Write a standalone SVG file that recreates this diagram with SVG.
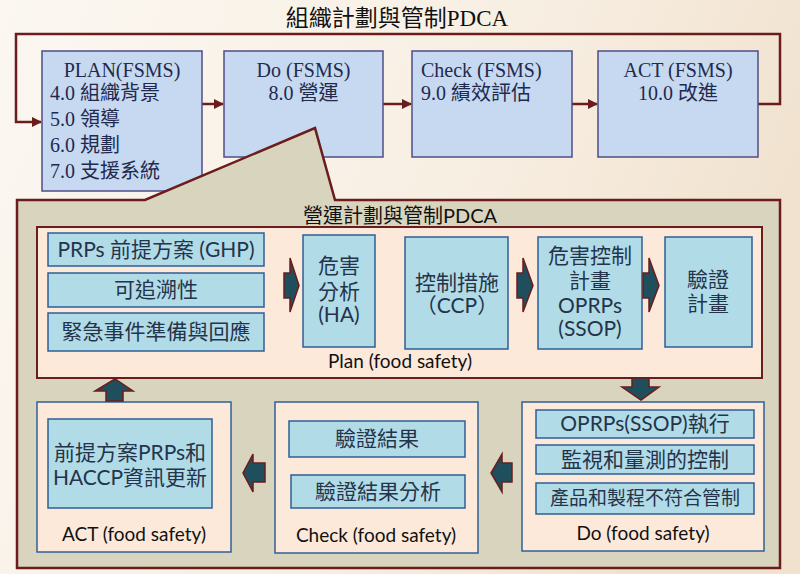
<svg xmlns="http://www.w3.org/2000/svg" width="800" height="574" viewBox="0 0 800 574">
<defs>
<linearGradient id="bg" x1="0" y1="0" x2="1" y2="0.3">
<stop offset="0" stop-color="#fbf7f1"/>
<stop offset="0.6" stop-color="#f8efe3"/>
<stop offset="1" stop-color="#f1e2cf"/>
</linearGradient>
<marker id="ah" viewBox="0 0 10 10" refX="9" refY="5" markerWidth="4" markerHeight="4" orient="auto" markerUnits="strokeWidth">
<path d="M0,0 L10,5 L0,10 Z" fill="#6b1c1c"/>
</marker>
<style>
.top{fill:#c6d9f1;stroke:#514c86;stroke-width:1.5}
.tt{font-family:"Liberation Serif","Noto Sans CJK TC",serif;font-size:20px;fill:#1f2a4e}
.conn{fill:none;stroke:#6b1c1c;stroke-width:2.5}
.peach{fill:#fde9da}
.blue{fill:#b2dbe8;stroke:#2f5f96;stroke-width:1.5}
.bt{font-family:"Lato","Noto Sans CJK TC",sans-serif;font-size:21px;fill:#24344a;text-anchor:middle}
.lbl{font-family:"Lato","Noto Sans CJK TC",sans-serif;font-size:19px;fill:#111;text-anchor:middle}
.arr{fill:#1f4e5c;stroke:#6b1c1c;stroke-width:1.5;stroke-linejoin:miter}
</style>
</defs>
<rect width="800" height="574" fill="url(#bg)"/>
<text x="397" y="26" text-anchor="middle" style="font-family:'Liberation Serif','Noto Sans CJK TC',serif;font-size:23px;fill:#111">組織計劃與管制PDCA</text>

<g id="connectors">
<path class="conn" d="M758,104 H780 V34 H16 V122 H41" marker-end="url(#ah)"/>
<path class="conn" d="M202,104 H223" marker-end="url(#ah)"/>
<path class="conn" d="M383,104 H411" marker-end="url(#ah)"/>
<path class="conn" d="M572,104 H597" marker-end="url(#ah)"/>
</g>

<g id="plan-fsms">
<rect class="top" x="42" y="51" width="160" height="140"/>
<text class="tt" x="122" y="77" text-anchor="middle">PLAN(FSMS)</text>
<text class="tt" x="50" y="100">4.0 組織背景</text>
<text class="tt" x="50" y="126">5.0 領導</text>
<text class="tt" x="50" y="152">6.0 規劃</text>
<text class="tt" x="50" y="178">7.0 支援系統</text>
</g>
<g id="do-fsms">
<rect class="top" x="224" y="51" width="159" height="106"/>
<text class="tt" x="303.5" y="77" text-anchor="middle">Do (FSMS)</text>
<text class="tt" x="303.5" y="100" text-anchor="middle">8.0 營運</text>
</g>
<g id="check-fsms">
<rect class="top" x="412" y="51" width="160" height="106"/>
<text class="tt" x="421" y="77">Check (FSMS)</text>
<text class="tt" x="421" y="100">9.0 績效評估</text>
</g>
<g id="act-fsms">
<rect class="top" x="598" y="51" width="160" height="106"/>
<text class="tt" x="678" y="77" text-anchor="middle">ACT (FSMS)</text>
<text class="tt" x="678" y="100" text-anchor="middle">10.0 改進</text>
</g>

<g id="operations-panel">
<path d="M17,200 L145,200 L315,128 L335,200 L780,200 L780,568 L17,568 Z" fill="#d9d4bd" stroke="#6b1c1c" stroke-width="2.5" stroke-linejoin="miter"/>
<text x="400" y="223" class="bt" style="fill:#111;font-size:20px">營運計劃與管制PDCA</text>
</g>

<g id="plan-food-safety">
<rect x="37" y="227" width="725" height="151" class="peach" stroke="#6b1c1c" stroke-width="2"/>
<text class="lbl" x="400" y="368">Plan (food safety)</text>
</g>
<g id="prps">
<rect class="blue" x="48" y="233" width="216" height="33"/>
<text class="bt" x="156" y="257">PRPs 前提方案 (GHP)</text>
</g>
<g id="traceability">
<rect class="blue" x="48" y="273" width="216" height="34"/>
<text class="bt" x="156" y="297">可追溯性</text>
</g>
<g id="emergency">
<rect class="blue" x="48" y="313" width="216" height="38"/>
<text class="bt" x="156" y="339">緊急事件準備與回應</text>
</g>
<g id="ha">
<rect class="blue" x="303" y="235" width="72" height="112"/>
<text class="bt" x="339" y="273">危害</text>
<text class="bt" x="339" y="299">分析</text>
<text class="bt" x="339" y="322">(HA)</text>
</g>
<g id="ccp">
<rect class="blue" x="405" y="237" width="103" height="112"/>
<text class="bt" x="457" y="290">控制措施</text>
<text class="bt" x="457" y="313">（CCP）</text>
</g>
<g id="oprps">
<rect class="blue" x="538" y="237" width="104" height="112"/>
<text class="bt" x="590" y="263">危害控制</text>
<text class="bt" x="590" y="288">計畫</text>
<text class="bt" x="590" y="313">OPRPs</text>
<text class="bt" x="590" y="336">(SSOP)</text>
</g>
<g id="verification-plan">
<rect class="blue" x="665" y="237" width="87" height="110"/>
<text class="bt" x="708" y="287">驗證</text>
<text class="bt" x="708" y="311">計畫</text>
</g>

<g id="act-food-safety">
<rect x="37" y="402" width="194" height="150" class="peach" stroke="#2f5f96" stroke-width="1.5"/>
<rect class="blue" x="48" y="419" width="164" height="89"/>
<text class="bt" x="130" y="460">前提方案PRPs和</text>
<text class="bt" x="130" y="485">HACCP資訊更新</text>
<text class="lbl" x="134" y="541">ACT (food safety)</text>
</g>
<g id="check-food-safety">
<rect x="275" y="402" width="203" height="151" class="peach" stroke="#2f5f96" stroke-width="1.5"/>
<rect class="blue" x="289" y="421" width="176" height="36"/>
<text class="bt" x="377" y="446">驗證結果</text>
<rect class="blue" x="291" y="475" width="174" height="33"/>
<text class="bt" x="378" y="499">驗證結果分析</text>
<text class="lbl" x="376" y="542">Check (food safety)</text>
</g>
<g id="do-food-safety">
<rect x="522" y="402" width="242" height="149" class="peach" stroke="#2f5f96" stroke-width="1.5"/>
<rect class="blue" x="536" y="410" width="218" height="28"/>
<text class="bt" x="645" y="431">OPRPs(SSOP)執行</text>
<rect class="blue" x="536" y="445" width="218" height="29"/>
<text class="bt" x="645" y="467">監視和量測的控制</text>
<rect class="blue" x="536" y="483" width="218" height="31"/>
<text class="bt" x="645" y="505" style="font-size:19px">產品和製程不符合管制</text>
<text class="lbl" x="643" y="540">Do (food safety)</text>
</g>

<g id="flow-arrows">
<path class="arr" d="M284,273 H290 V258 L299,285.5 L290,312 V298 H284 Z"/>
<path class="arr" d="M517,273 H523 V258 L533,285.5 L523,312 V298 H517 Z"/>
<path class="arr" d="M643,273 H649 V258 L659,285.5 L649,312 V298 H643 Z"/>
<path class="arr" d="M632,378 H649 V387 H659 L641,400 L622,387 H632 Z"/>
<path class="arr" d="M512,463 H502 V454 L491,473 L502,492 V482 H512 Z"/>
<path class="arr" d="M265,463 H253 V454 L243,473 L253,492 V482 H265 Z"/>
<path class="arr" d="M106,401 V391 H95 L115,379 L133,391 H123 V401 Z"/>
</g>
</svg>
